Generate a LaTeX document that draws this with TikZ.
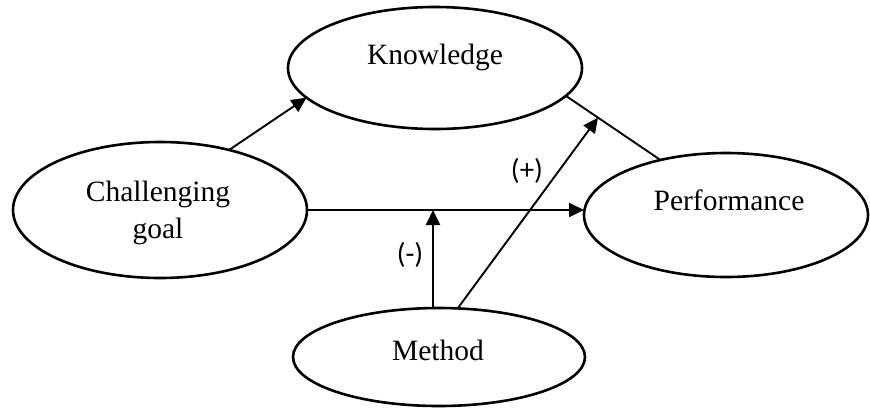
\documentclass[tikz,border=0pt]{standalone}
\usepackage{fontspec}
\setmainfont{Liberation Serif}
\newfontfamily\labfont{Carlito}
\usetikzlibrary{shapes.geometric,arrows.meta}
\begin{document}
\begin{tikzpicture}[x=1pt,y=-1pt,
  oval/.style={draw,ellipse,line width=2.6pt,inner sep=0pt,outer sep=0pt},
  ovaltext/.style={anchor=base,inner sep=0pt,font=\fontsize{29.5}{37}\selectfont,align=center},
  conn/.style={line width=1.9pt},
  arr/.style={conn,-{Triangle[length=15pt,width=14pt]}},
  sign/.style={inner sep=0pt,font=\labfont\fontsize{29}{34}\selectfont}]
\useasboundingbox (0,0) rectangle (870,408);
% ellipses
\node[oval,minimum width=294pt,minimum height=122pt] (kn) at (435,68) {};
\node[oval,minimum width=294pt,minimum height=136pt] (cg) at (160,210) {};
\node[oval,minimum width=284pt,minimum height=124pt] (pf) at (726,215) {};
\node[oval,minimum width=292pt,minimum height=98pt] (md) at (439,357) {};
% texts
\node[ovaltext] (knt) at (435,64) {Knowledge};
\node[ovaltext] (cgt1) at (158,201) {Challenging};
\node[ovaltext] (cgt2) at (158,238) {goal};
\node[ovaltext] (pft) at (729,210) {Performance};
\node[ovaltext] (mdt) at (438,360) {Method};
% connectors
\draw[arr] (cg.41) -- (kn.193);
\draw[conn] (kn.348) -- (pf.140) coordinate[pos=0.34] (kp);
\draw[arr] (cg.east) -- (cg.east -| pf.west);
\coordinate (m1) at (433,210);
\draw[arr] (md.north -| m1) -- (m1);
\draw[arr] (md.69) -- (kp);
% signs
\node[sign] (plus) at (527,171) {(+)};
\node[sign] (minus) at (410,255) {(-)};
\end{tikzpicture}
\end{document}
